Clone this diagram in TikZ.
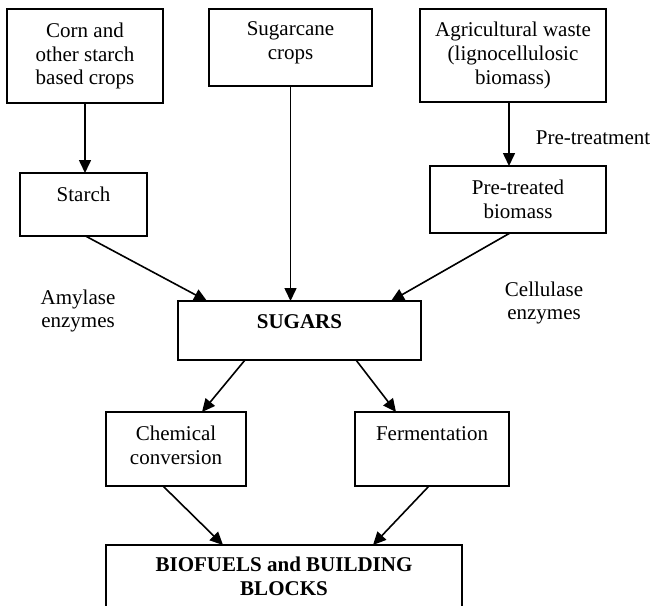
\documentclass[tikz,border=0pt]{standalone}
\usepackage{fontspec}
\setmainfont{Liberation Serif}
\usetikzlibrary{arrows.meta}
% invisible depth strut: lifts a node's text towards the top of its box
\newcommand{\lowpad}[1]{\rule[-#1]{0pt}{#1}}
\begin{document}
\begin{tikzpicture}[x=1pt,y=-1pt,
  every node/.style={font=\fontsize{21pt}{23.8pt}\selectfont, align=center, inner sep=0pt, outer sep=0pt},
  box/.style={draw, line width=1.6pt},
  flow/.style={line width=1.6pt, -{Triangle[length=13pt,width=12pt]}}]
\useasboundingbox (0,0) rectangle (652,605);
\clip (0,0) rectangle (652,605);
\fill[white] (0,0) rectangle (652,605);

% feedstocks
\node[box, minimum width=156pt, minimum height=94pt] (corn) at (85,56) {Corn and\\other starch\\based crops};
\node[box, minimum width=163pt, minimum height=77pt] (cane) at (290.5,47.5) {Sugarcane\\crops\lowpad{13.6pt}};
\node[box, minimum width=186pt, minimum height=93pt] (agri) at (513,55.5) {Agricultural waste\\(lignocellulosic\\biomass)};

% intermediates
\node[box, minimum width=127pt, minimum height=63pt] (starch) at (83.5,204.5) {Starch\lowpad{19.9pt}};
\node[box, minimum width=176pt, minimum height=67pt] (pre) at (518,199.5) {Pre-treated\\biomass};
\node[box, minimum width=243pt, minimum height=59pt] (sugars) at (299.5,330.5) {\textbf{SUGARS}\lowpad{18.8pt}};

% conversion routes
\node[box, minimum width=140pt, minimum height=74pt] (chem) at (176,449) {Chemical\\conversion\lowpad{7pt}};
\node[box, minimum width=154pt, minimum height=74pt] (ferm) at (432,449) {Fermentation\lowpad{31.3pt}};

% products
\node[box, minimum width=356pt, minimum height=95pt] (bio) at (284,592.5) {\textbf{BIOFUELS and BUILDING}\\\textbf{BLOCKS}\lowpad{32.1pt}};

% process labels
\node (ptlabel) at (593,138) {Pre-treatment};
\node (amylase) at (78,311) {Amylase\\enzymes};
\node (cellulase) at (544,303) {Cellulase\\enzymes};

% flows
\draw[flow] (corn.south) -- (corn.south |- starch.north);
\draw[flow] (cane.south) -- (cane.south |- sugars.north);
\draw[flow] ([xshift=-4pt]agri.south) -- ([xshift=-4pt]agri.south |- pre.north);
\draw[flow] ([xshift=2pt]starch.south) -- ([xshift=29pt]sugars.north west);
\draw[flow] ([xshift=-8pt]pre.south) -- ([xshift=-30pt]sugars.north east);
\draw[flow] ([xshift=67pt]sugars.south west) -- ([xshift=26pt]chem.north);
\draw[flow] ([xshift=-65pt]sugars.south east) -- ([xshift=-36pt]ferm.north);
\draw[flow] ([xshift=-13pt]chem.south) -- ([xshift=117pt]bio.north west);
\draw[flow] ([xshift=-3pt]ferm.south) -- ([xshift=-89pt]bio.north east);
\end{tikzpicture}
\end{document}
